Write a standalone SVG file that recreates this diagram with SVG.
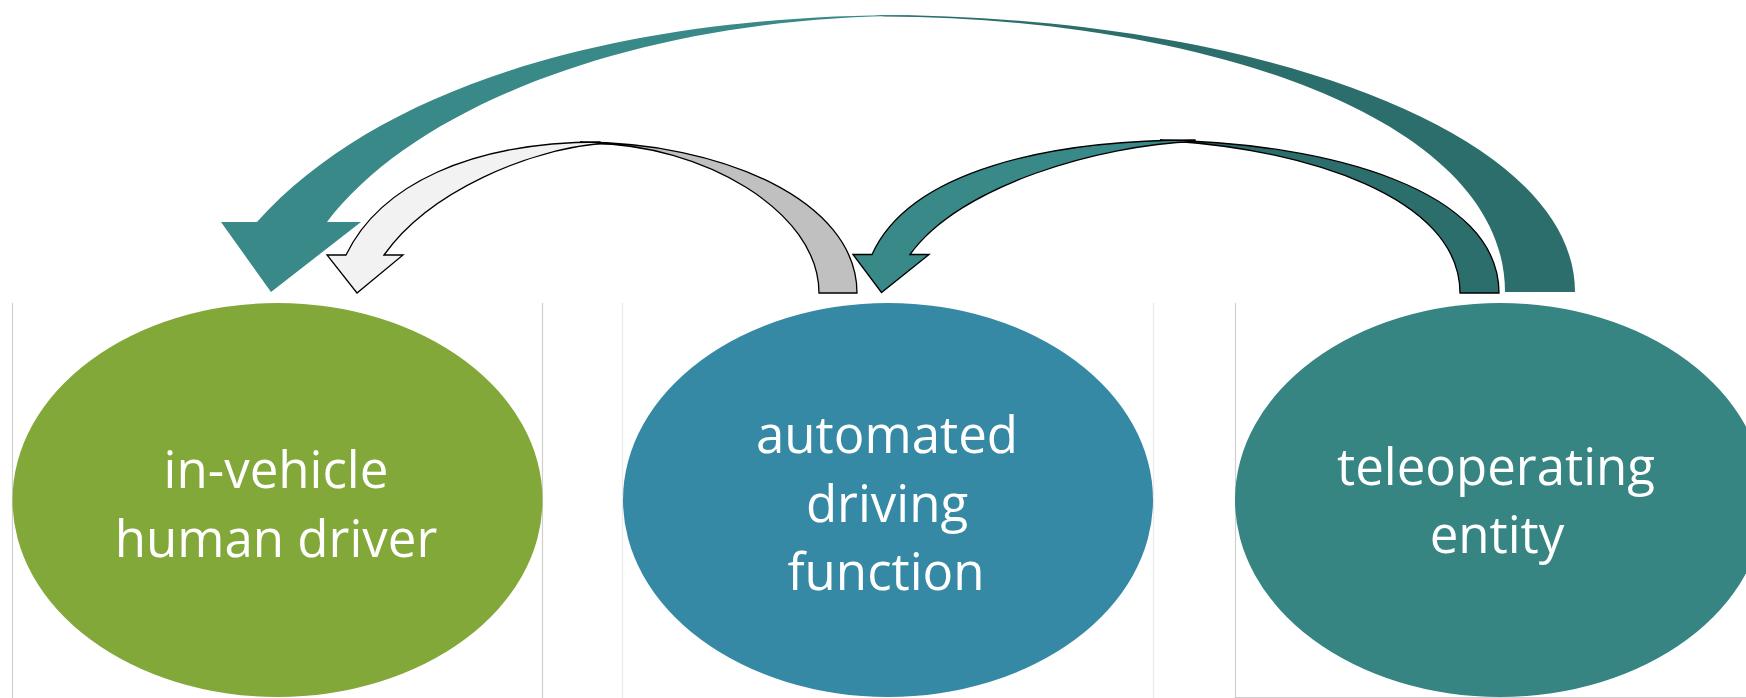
<svg xmlns="http://www.w3.org/2000/svg" width="1746" height="698" viewBox="0 0 1746 698">
<style>
.lbl{font-family:"Open Sans","Liberation Sans",sans-serif;font-size:51px;font-weight:400;fill:#ffffff;text-anchor:middle}
.frame{stroke:#cfcfcf;stroke-width:1.2;fill:none}
.frame2{stroke:#e8e8e8;stroke-width:1.2;fill:none}
.ol{stroke:#000000;stroke-width:1.3;stroke-linejoin:miter}
</style>
<rect width="1746" height="698" fill="#ffffff"/>
<g id="node-driver">
<path class="frame" d="M12.5,303 V698 M542.5,303 V698"/>
<ellipse cx="277.5" cy="500" rx="265" ry="197" fill="#82a83a"/>
<text class="lbl" x="276" y="488">in-vehicle</text>
<text class="lbl" x="276" y="557">human driver</text>
</g>
<g id="node-adf">
<path class="frame2" d="M622.5,303 V698 M1153.5,303 V698"/>
<ellipse cx="888" cy="500" rx="265" ry="197" fill="#3589a4"/>
<text class="lbl" x="887" y="453">automated</text>
<text class="lbl" x="887" y="522">driving</text>
<text class="lbl" x="886" y="590">function</text>
</g>
<g id="node-tele">
<path class="frame" d="M1235.5,303 V697.5 H1746"/>
<ellipse cx="1500" cy="500" rx="265" ry="197" fill="#368583"/>
<text class="lbl" x="1496" y="485">teleoperating</text>
<text class="lbl" x="1497" y="553">entity</text>
</g>
<g id="connectors">
<!-- big arrow: teleoperating entity -> in-vehicle human driver -->
<path fill="#2c6e6c" d="M875,15 C1250,15 1575,130 1575,292 L1505,292 C1505,110 1180,17 885,16.5 Z"/>
<path fill="#388987" d="M910,15 C620,15 380,85 257,222 L221,222 L271,292 L361,222 L327,222 C420,100 650,17 910,15.8 Z"/>
<!-- gray arrow: automated driving function -> in-vehicle human driver -->
<path class="ol" fill="#c0c0c0" d="M580,142 C720,142 857,200 857,293 L819,293 C819,210 700,144 592,143.5 Z"/>
<path class="ol" fill="#f2f2f2" d="M600,142 C470,142 380,185 346,255 L327,255 L357,293 L403,255 L384,255 C430,190 530,150 600,143.5 Z"/>
<!-- teal arrow: teleoperating entity -> automated driving function -->
<path class="ol" fill="#2c6e6c" d="M1160,140 C1330,143 1499,190 1499,293 L1460,293 C1460,195 1300,150 1178,141.5 Z"/>
<path class="ol" fill="#388987" d="M1195,140 C1050,140 910,170 872,254.5 L853,254.5 L881.5,292.5 L929,254.5 L910,254.5 C960,185 1100,145 1195,141.5 Z"/>
</g>
</svg>
